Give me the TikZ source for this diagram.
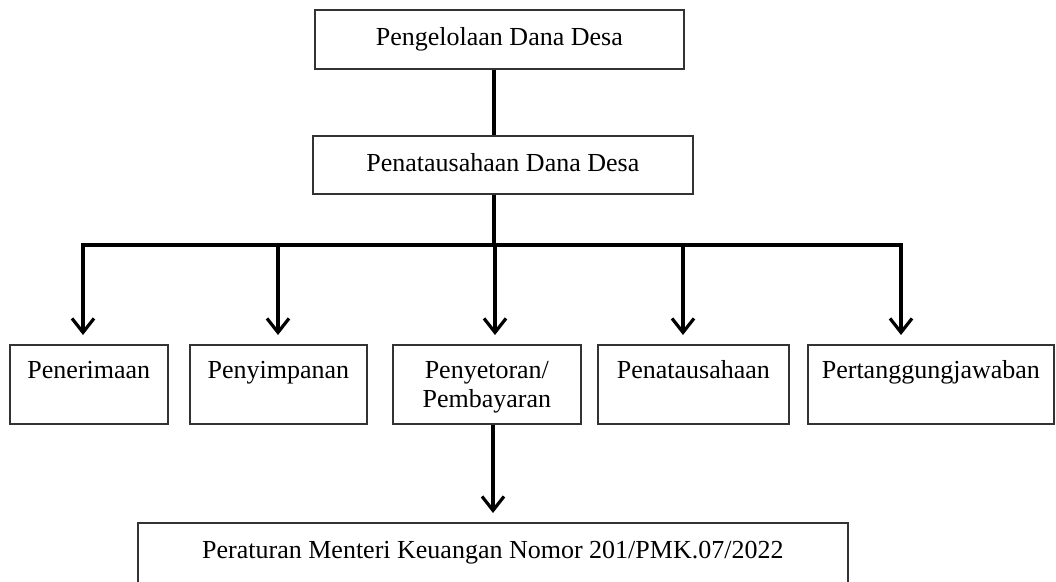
\documentclass[tikz,border=0pt]{standalone}
\usepackage{fontspec}
\setmainfont{Liberation Serif}
\usetikzlibrary{arrows.meta}
\tikzset{
  box/.style={draw=black!80, line width=1.7pt, rectangle, inner xsep=0pt, inner ysep=0pt,
    anchor=north west, align=center, font=\fontsize{26}{29}\selectfont},
  conn/.style={line width=3.2pt, black},
  arr/.style={conn, -{Straight Barb[length=14pt,width=22pt]}}
}
\begin{document}
\begin{tikzpicture}[x=1pt,y=-1pt]
\useasboundingbox (0,0) rectangle (1056,581);
\clip (0,0) rectangle (1056,581);
% top boxes
\node[box, minimum width=369pt, text height=36pt, text depth=23pt] (top) at (314,9) {Pengelolaan Dana Desa};
\node[box, minimum width=380pt, text height=36pt, text depth=22pt] (mid) at (312,135) {Penatausahaan Dana Desa};
% second-level boxes
\node[box, minimum width=158pt, text height=34pt, text depth=45pt] (n1) at (9,344) {Penerimaan};
\node[box, minimum width=177pt, text height=34pt, text depth=45pt] (n2) at (189,344) {Penyimpanan};
\node[box, minimum width=188pt, text height=34pt, text depth=45pt] (n3) at (392,344) {\begin{tabular}[t]{@{}c@{}}Penyetoran/\\Pembayaran\end{tabular}};
\node[box, minimum width=191pt, text height=34pt, text depth=45pt] (n4) at (597,344) {Penatausahaan};
\node[box, minimum width=246pt, text height=34pt, text depth=45pt] (n5) at (807,344) {Pertanggungjawaban};
% bottom box
\node[box, minimum width=710pt, text height=36pt, text depth=70pt] (pmk) at (137,522) {Peraturan Menteri Keuangan Nomor 201/PMK.07/2022};
% junction coordinates
\coordinate (trunk) at (494,245);
\coordinate (b1) at (83,245);
\coordinate (b2) at (278,245);
\coordinate (b3) at (495,245);
\coordinate (b4) at (683,245);
\coordinate (b5) at (901,245);
\coordinate (b6) at (493,423);
% connectors
\draw[conn] (top.south -| trunk) -- (mid.north -| trunk);
\draw[conn] (mid.south -| trunk) -- (trunk);
\draw[conn, line cap=rect] (b1) -- (b5);
\draw[arr, shorten >=9pt] (b1) -- (b1 |- n1.north);
\draw[arr, shorten >=9pt] (b2) -- (b2 |- n2.north);
\draw[arr, shorten >=9pt] (b3) -- (b3 |- n3.north);
\draw[arr, shorten >=9pt] (b4) -- (b4 |- n4.north);
\draw[arr, shorten >=9pt] (b5) -- (b5 |- n5.north);
\draw[arr, shorten >=9pt] (n3.south -| b6) -- (b6 |- pmk.north);
\end{tikzpicture}
\end{document}
